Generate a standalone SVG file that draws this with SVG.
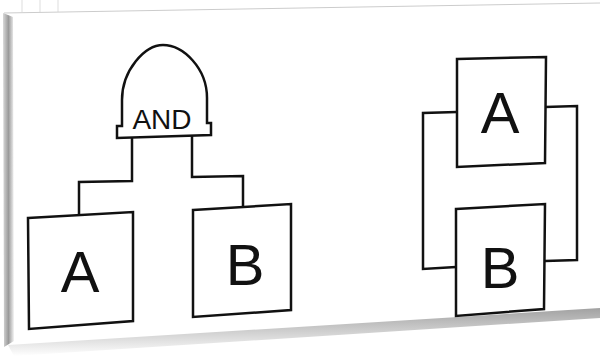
<svg xmlns="http://www.w3.org/2000/svg" width="600" height="360" viewBox="0 0 600 360">
<style>
.s{fill:#fff;stroke:#111;stroke-width:2.5;stroke-linejoin:miter}
.c{fill:none;stroke:#111;stroke-width:2.5}
.t{font-family:"Liberation Sans",Arial,sans-serif;fill:#111;text-anchor:middle}
</style>
<defs>
<linearGradient id="lg" x1="0" y1="0" x2="1" y2="0">
<stop offset="0" stop-color="#d8d8d8"/><stop offset="0.5" stop-color="#9a9a9a"/><stop offset="1" stop-color="#f4f4f4"/>
</linearGradient>
<linearGradient id="bg" x1="0" y1="0" x2="0" y2="1">
<stop offset="0" stop-color="#8a8a8a"/><stop offset="1" stop-color="#ffffff"/>
</linearGradient>
</defs>
<rect width="600" height="360" fill="#fff"/>
<g id="page">
<g stroke="#ddd" stroke-width="1">
<line x1="22" y1="0" x2="22" y2="12"/><line x1="40" y1="0" x2="40" y2="12"/><line x1="58" y1="0" x2="58" y2="12"/>
</g>
<line x1="4" y1="13" x2="600" y2="3" stroke="#ccc" stroke-width="1"/>
<polygon points="3,13 13,17 14,341 4,347" fill="url(#lg)"/>
<polygon points="8,345 600,308 600,318 14,356" fill="url(#bg)" opacity="0.8"/>
</g>
<g id="connectors">
<polyline class="c" points="132,138 132,181 79,182 79,214"/>
<polyline class="c" points="192,136 192,177 243,176 243,206"/>
<polyline class="c" points="457,112 423,113 423,269 456,267"/>
<polyline class="c" points="545,107 577,106 577,260 545,261"/>
</g>
<g id="gate">
<path class="s" d="M117,138 L117,126 L122,126 L122,100 C122,70 145,45 163,45 C183,45 207,68 207,98 L207,123 L211,123 L211,135 Z"/>
<text class="t" x="162" y="129" font-size="28">AND</text>
</g>
<g id="boxA1">
<polygon class="s" points="28,218 133,212 133,321 29,329"/>
<text class="t" x="80" y="292" font-size="58">A</text>
</g>
<g id="boxB1">
<polygon class="s" points="193,210 291,204 291,310 193,317"/>
<text class="t" x="245" y="285" font-size="58">B</text>
</g>
<g id="boxA2">
<polygon class="s" points="457,59 546,57 545,163 457,167"/>
<text class="t" x="500" y="133" font-size="58">A</text>
</g>
<g id="boxB2">
<polygon class="s" points="456,209 545,204 544,309 456,316"/>
<text class="t" x="500" y="288" font-size="58">B</text>
</g>
</svg>
